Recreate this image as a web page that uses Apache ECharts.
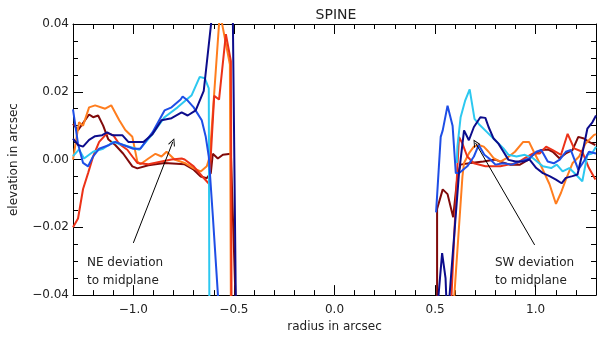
<!DOCTYPE html>
<html>
<head>
<meta charset="utf-8">
<script src="https://cdn.jsdelivr.net/npm/echarts@6/dist/echarts.min.js"></script>
<style>
  html, body { margin: 0; padding: 0; background: #fff; }
  #chart { width: 600px; height: 338px; }
</style>
</head>
<body>
<div id="chart"></div>
<script>
// tick labels
var xMajorTicks = [-1.0, -0.5, 0.0, 0.5, 1.0];

// each profile: [radius, elevation], NE side (left) and SW side (right)
var navyLeft = [[-1.30,0.0062],[-1.275,0.0043],[-1.25,0.0038],[-1.22,0.0058],[-1.19,0.0069],[-1.155,0.0072],[-1.13,0.008],[-1.105,0.0072],[-1.055,0.0072],[-1.025,0.0052],[-0.95,0.0052],[-0.905,0.0075],[-0.86,0.0116],[-0.81,0.0122],[-0.76,0.0139],[-0.73,0.013],[-0.69,0.0145],[-0.65,0.0203],[-0.61,0.042],[-0.58,0.06],[-0.52,0.06],[-0.505,0.04],[-0.49,-0.045]];
var navyRight = [[0.51,-0.045],[0.535,-0.0276],[0.552,-0.035],[0.562,-0.05],[0.572,-0.04],[0.619,-0.004],[0.644,0.0086],[0.668,0.0057],[0.693,0.0096],[0.725,0.0125],[0.75,0.0123],[0.766,0.0096],[0.791,0.0062],[0.815,0.0047],[0.84,0.0023],[0.865,-0.0001],[0.90,-0.0006],[0.94,-0.0006],[0.97,0.0],[1.003,-0.0025],[1.036,-0.004],[1.069,-0.0049],[1.101,-0.0059],[1.129,-0.007],[1.15,-0.0054],[1.183,-0.0049],[1.208,-0.0044],[1.232,0.0018],[1.257,0.0091],[1.282,0.011],[1.30,0.013]];

var blueLeft = [[-1.30,0.0148],[-1.275,0.0046],[-1.25,-0.001],[-1.225,-0.002],[-1.20,0.0009],[-1.17,0.0032],[-1.12,0.0043],[-1.09,0.0052],[-1.05,0.0043],[-1.0,0.0032],[-0.965,0.0032],[-0.905,0.008],[-0.845,0.0145],[-0.81,0.0154],[-0.765,0.0177],[-0.755,0.0186],[-0.73,0.0174],[-0.70,0.0154],[-0.66,0.0116],[-0.64,0.0067],[-0.625,0.0009],[-0.605,-0.0165],[-0.574,-0.045]];
var blueRight = [[0.505,-0.0156],[0.528,0.0067],[0.538,0.0086],[0.562,0.0159],[0.587,0.01],[0.603,-0.004],[0.62,-0.004],[0.66,-0.002],[0.693,0.0009],[0.717,0.0043],[0.745,0.0014],[0.775,0.0],[0.80,-0.0015],[0.84,-0.0011],[0.88,-0.0015],[0.92,-0.0006],[0.97,0.0004],[1.003,0.0023],[1.028,0.0028],[1.06,-0.0006],[1.09,-0.0011],[1.12,0.0],[1.15,0.0023],[1.175,0.0028],[1.212,-0.003],[1.24,-0.0005],[1.265,0.0023],[1.30,0.0018]];

var cyanLeft = [[-1.30,0.001],[-1.27,0.003],[-1.245,0.0003],[-1.20,0.0023],[-1.15,0.0032],[-1.10,0.0052],[-1.02,0.0038],[-0.97,0.0029],[-0.905,0.0075],[-0.845,0.0125],[-0.78,0.0154],[-0.71,0.019],[-0.67,0.0244],[-0.645,0.024],[-0.625,0.021],[-0.622,-0.045]];
var cyanRight = [[0.608,-0.001],[0.611,0.0038],[0.627,0.0125],[0.649,0.0173],[0.672,0.0207],[0.696,0.012],[0.717,0.0105],[0.758,0.0081],[0.799,0.0057],[0.84,0.0033],[0.865,0.0014],[0.905,0.0009],[0.946,0.0014],[0.987,0.0004],[1.036,-0.002],[1.077,-0.0025],[1.105,-0.0015],[1.134,-0.0035],[1.167,-0.0025],[1.20,-0.0044],[1.232,-0.0064],[1.257,0.0014],[1.28,0.0018],[1.30,0.0038]];

var orangeLeft = [[-1.30,0.0],[-1.27,0.011],[-1.25,0.010],[-1.22,0.0154],[-1.19,0.016],[-1.14,0.015],[-1.11,0.016],[-1.07,0.0116],[-1.04,0.0087],[-1.005,0.0067],[-0.98,-0.0006],[-0.965,-0.0014],[-0.925,0.0003],[-0.89,0.0017],[-0.86,0.0009],[-0.835,0.0023],[-0.795,0.0],[-0.745,-0.001],[-0.70,-0.0026],[-0.665,-0.0035],[-0.635,-0.002],[-0.62,0.0009],[-0.574,0.04],[-0.565,0.042],[-0.52,0.028],[-0.515,-0.045]];
var orangeRight = [[0.59,-0.045],[0.636,-0.005],[0.644,-0.001],[0.668,0.0018],[0.693,0.0038],[0.717,0.0043],[0.742,0.0038],[0.766,0.0023],[0.791,0.0004],[0.824,-0.0006],[0.856,0.0004],[0.897,0.0023],[0.938,0.0052],[0.967,0.0052],[0.995,0.0018],[1.028,-0.002],[1.069,-0.0073],[1.101,-0.0131],[1.126,-0.0098],[1.15,-0.0059],[1.183,-0.0011],[1.216,0.0009],[1.248,0.0047],[1.289,0.0072],[1.30,0.0075]];

var redLeft = [[-1.30,-0.02],[-1.275,-0.0174],[-1.25,-0.0087],[-1.225,-0.004],[-1.20,0.0009],[-1.17,0.0052],[-1.13,0.0078],[-1.10,0.0072],[-1.07,0.0046],[-1.03,0.0029],[-1.005,0.0009],[-0.98,-0.001],[-0.925,-0.0014],[-0.86,-0.0006],[-0.81,0.0],[-0.76,0.0003],[-0.745,0.0],[-0.70,-0.002],[-0.657,-0.005],[-0.623,-0.0072],[-0.598,0.0188],[-0.574,0.0177],[-0.54,0.037],[-0.515,0.029],[-0.512,-0.045]];
var redRight = [[0.578,-0.045],[0.611,-0.002],[0.619,0.0067],[0.636,0.0047],[0.66,0.0009],[0.693,-0.0011],[0.75,-0.002],[0.824,-0.002],[0.865,-0.0015],[0.905,-0.0011],[0.946,0.0004],[0.987,0.0018],[1.02,0.0018],[1.052,0.0038],[1.085,0.0028],[1.126,0.0014],[1.159,0.0076],[1.191,0.0033],[1.232,0.0023],[1.265,-0.0025],[1.297,-0.0059]];

var maroonLeft = [[-1.30,0.0105],[-1.275,0.0087],[-1.22,0.0133],[-1.20,0.0125],[-1.175,0.013],[-1.15,0.010],[-1.125,0.006],[-1.09,0.0043],[-1.05,0.0017],[-1.005,-0.002],[-0.98,-0.0026],[-0.925,-0.0017],[-0.845,-0.001],[-0.745,-0.0014],[-0.70,-0.003],[-0.665,-0.005],[-0.635,-0.0055],[-0.615,-0.004],[-0.605,0.0017],[-0.58,0.0003],[-0.555,0.0014],[-0.515,0.0017],[-0.49,-0.045]];
var maroonRight = [[0.51,-0.045],[0.51,-0.0146],[0.538,-0.0088],[0.562,-0.0102],[0.59,-0.017],[0.611,-0.005],[0.626,-0.0015],[0.676,-0.001],[0.74,-0.0006],[0.80,0.0],[0.824,-0.0006],[0.873,-0.0015],[0.922,-0.0015],[0.962,-0.0001],[0.987,0.0014],[1.028,0.0028],[1.06,0.003],[1.085,0.0023],[1.118,0.0004],[1.15,0.0018],[1.183,0.0028],[1.212,0.0067],[1.24,0.0062],[1.265,0.0052],[1.297,0.0043]];

// annotation arrows: [tail, head]
var neArrow = [[-1.0,-0.0246],[-0.804,0.0052]];
var swArrow = [[0.995,-0.0252],[0.701,0.0049]];

var FONT = 'DejaVu Sans';
var INK = '#222';

function xLabel(v) {
    var r = Math.round(v * 2) / 2;
    if (Math.abs(v - r) > 1e-6) return '';
    return (r < 0 ? '\u2212' : '') + Math.abs(r).toFixed(1);
}
function yLabel(v) {
    return (v < -1e-9 ? '\u2212' : '') + Math.abs(v).toFixed(2);
}

var chevron = 'path://M5,0 L10,9 L9,10 L5,2.4 L1,10 L0,9 Z';

function xAx(pos, major, labels) {
    return {
        type: 'value', position: pos, min: -1.3, max: 1.3, interval: 0.1,
        axisLine: { show: !major, onZero: false, lineStyle: { color: '#000', width: 1 } },
        axisTick: major
            ? { show: true, inside: true, length: 10, customValues: xMajorTicks, lineStyle: { color: '#000' } }
            : { show: true, inside: true, length: 5, lineStyle: { color: '#000' } },
        axisLabel: labels
            ? { show: true, formatter: xLabel, margin: 9, fontFamily: FONT, fontSize: 12, color: INK }
            : { show: false },
        splitLine: { show: false },
        name: labels ? 'radius in arcsec' : '',
        nameLocation: 'middle', nameGap: 25,
        nameTextStyle: { fontFamily: FONT, fontSize: 12, color: INK }
    };
}
function yAx(pos, labels) {
    return {
        type: 'value', position: pos, min: -0.04, max: 0.04, interval: 0.02,
        axisLine: { show: true, onZero: false, lineStyle: { color: '#000', width: 1 } },
        axisTick: { show: true, inside: true, length: 10, lineStyle: { color: '#000' } },
        minorTick: { show: true, splitNumber: 4, length: 5, lineStyle: { color: '#000' } },
        axisLabel: labels
            ? { show: true, formatter: yLabel, margin: 4, fontFamily: FONT, fontSize: 12, color: INK }
            : { show: false },
        splitLine: { show: false }, minorSplitLine: { show: false },
        name: labels ? 'elevation in arcsec' : '',
        nameLocation: 'middle', nameGap: 53, nameRotate: 90,
        nameTextStyle: { fontFamily: FONT, fontSize: 12, color: INK }
    };
}

function profile(data, color) {
    return {
        type: 'line', data: data, xAxisIndex: 0, yAxisIndex: 0,
        showSymbol: false, symbol: 'none', clip: true, silent: true,
        lineStyle: { color: color, width: 2 }
    };
}
function arrow(pts) {
    return {
        type: 'line', data: [], xAxisIndex: 0, yAxisIndex: 0, silent: true,
        markLine: {
            silent: true, animation: false, label: { show: false },
            symbol: ['none', chevron], symbolSize: [7, 8],
            lineStyle: { color: '#000', width: 1, type: 'solid' },
            data: [[{ coord: pts[0] }, { coord: pts[1] }]]
        }
    };
}

var chart = echarts.init(document.getElementById('chart'), null, { renderer: 'canvas' });
chart.setOption({
    animation: false,
    backgroundColor: '#fff',
    title: {
        text: 'SPINE', left: 331, top: 3, textAlign: 'center',
        textStyle: { fontFamily: FONT, fontSize: 14, fontWeight: 'normal', color: INK }
    },
    grid: { left: 66, right: 4, top: 24, bottom: 37, containLabel: false },
    xAxis: [xAx('bottom', false, true), xAx('bottom', true, false), xAx('top', false, false), xAx('top', true, false)],
    yAxis: [yAx('left', true), yAx('right', false)],
    series: [
        profile(maroonLeft, '#800a0a'), profile(maroonRight, '#800a0a'),
        profile(orangeLeft, '#ff7d1e'), profile(orangeRight, '#ff7d1e'),
        profile(redLeft, '#ec3218'), profile(redRight, '#ec3218'),
        profile(cyanLeft, '#2cc8f0'), profile(cyanRight, '#2cc8f0'),
        profile(blueLeft, '#1e4ee6'), profile(blueRight, '#1e4ee6'),
        profile(navyLeft, '#0c0c8c'), profile(navyRight, '#0c0c8c'),
        arrow(neArrow), arrow(swArrow)
    ],
    graphic: [
        { type: 'text', left: 87, top: 254, style: { text: 'NE deviation\nto midplane', font: '12px "DejaVu Sans"', fill: INK, lineHeight: 18 } },
        { type: 'text', left: 495, top: 254, style: { text: 'SW deviation\nto midplane', font: '12px "DejaVu Sans"', fill: INK, lineHeight: 18 } }
    ]
});
</script>
</body>
</html>
